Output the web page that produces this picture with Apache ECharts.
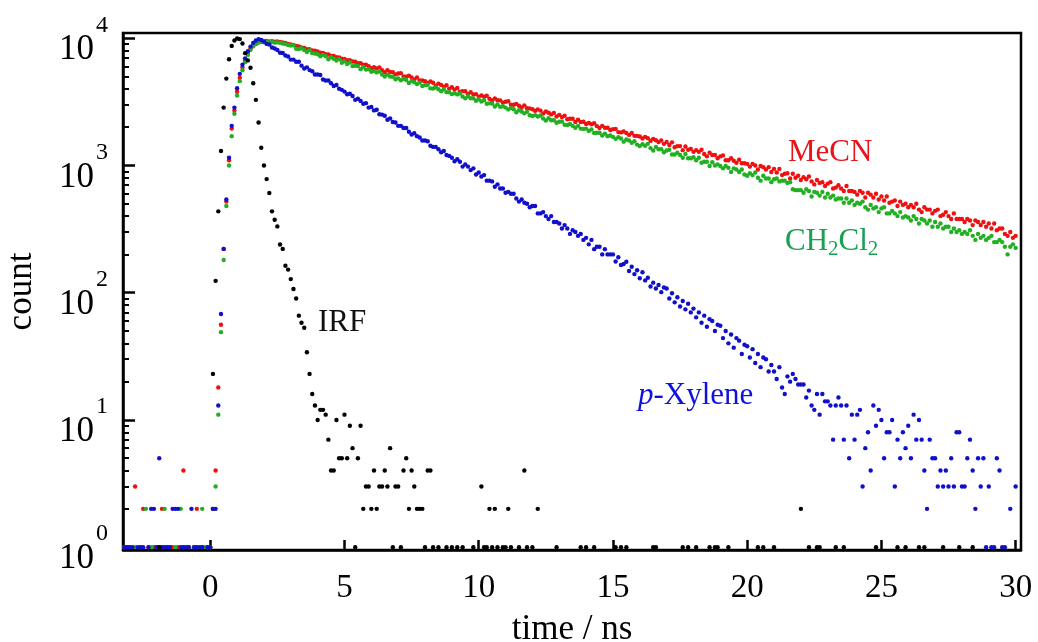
<!DOCTYPE html>
<html><head><meta charset="utf-8">
<script src="https://cdn.jsdelivr.net/npm/echarts@6/dist/echarts.min.js"></script>
<style>html,body{margin:0;padding:0;background:#fff}#c{width:1038px;height:642px}</style>
</head><body><div id="c"></div>
<script>
// time channels: t = T0 + i*DT (ns)
const T0 = -3.2, DT = 0.1;
const xTickValues = [0, 5, 10, 15, 20, 25, 30];
const yMajorValues = [1, 10, 100, 1000, 10000];
const yMinorValues = [2,3,4,5,6,7,8,9,20,30,40,50,60,70,80,90,200,300,400,500,600,700,800,900,2000,3000,4000,5000,6000,7000,8000,9000];

// MeCN counts per channel (rows: -3.2..-3.1, -3.0.., -2.0.., -1.0.., 0.0.., 1.0.., 2.0.. ... 29.0.., 30.0)
const mecn = [
1,1,
0,0,3,0,1,2,0,1,0,1,
0,1,2,0,1,0,1,0,1,0,
4,0,1,0,1,2,0,1,0,1,
1,2,4,18,56,221,520,1100,1950,2700,
3800,4900,5900,6700,7600,8300,8800,9100,9300,9400,
9420,9510,9460,9480,9390,9440,9360,9250,9190,9040,
8950,8870,8700,8640,8460,8390,8220,8190,8010,7990,
7860,7700,7660,7480,7450,7300,7270,7090,7080,6920,
6880,6730,6710,6560,6530,6380,6360,6200,6190,6040,
5830,5930,5800,5900,5600,5410,5620,5440,5420,5200,
5280,5320,5000,4980,5070,4910,4750,4920,4670,4660,
4600,4450,4570,4470,4240,4400,4300,4160,4270,4020,
4120,3950,4060,3810,3840,3830,3630,3770,3610,3640,
3480,3550,3470,3530,3350,3240,3370,3260,3250,3120,
3170,3200,3000,3000,3050,2950,2860,2970,2820,2810,
2770,2690,2760,2700,2560,2660,2600,2520,2590,2430,
2500,2400,2460,2310,2330,2330,2200,2290,2200,2210,
2120,2160,2110,2150,2040,1970,2050,1980,1980,1900,
1930,1940,1830,1820,1850,1800,1740,1800,1710,1710,
1690,1630,1680,1640,1560,1620,1580,1530,1570,1480,
1530,1450,1520,1390,1420,1420,1320,1410,1330,1350,
1280,1320,1280,1330,1230,1180,1260,1210,1210,1140,
1180,1200,1100,1100,1140,1090,1050,1110,1040,1040,
1030,980,1030,1000,930,990,970,930,970,890,
940,880,940,840,860,870,790,860,800,830,
770,810,780,820,750,710,770,730,740,690,
720,740,660,670,700,660,630,690,630,630,
620,590,630,610,560,610,590,560,600,540,
570,530,570,510,520,530,480,520,490,500,
470,490,470,500,450,430,470,450,450,420,
440,450,400,410,430,400,380,420,380,380,
380,360,380,370,340,370,360,340,360,330,
350,320,350,310,320,320,290,280,300,270,
280
];

const ch2cl2 = [
1,0,
1,0,1,0,1,0,2,0,1,0,
1,0,1,2,0,1,0,1,0,2,
1,0,1,0,1,1,0,2,1,1,
1,2,3,11,49,181,480,1000,1700,2550,
3550,4600,5600,6500,7400,8100,8650,9000,9250,9350,
9300,9390,9300,9360,9240,9280,9200,9090,9000,8850,
8780,8820,8270,8230,8350,8070,7790,8060,7640,7600,
7490,7230,7410,7230,6840,7090,6910,6680,6840,6420,
6580,6290,6450,6040,6080,6050,5720,5930,5670,5700,
5450,5530,5390,5470,5180,5000,5180,5010,4980,4760,
4840,4680,4810,4700,4450,4620,4510,4370,4480,4210,
4280,4310,4040,4030,4100,3970,3840,3970,3770,3760,
3640,3700,3620,3680,3490,3370,3500,3380,3370,3230,
3320,3180,3260,3060,3080,3070,2910,3020,2890,2920,
2850,2760,2830,2770,2620,2720,2660,2570,2640,2480,
2450,2490,2430,2470,2340,2260,2350,2270,2270,2170,
2210,2220,2090,2080,2120,2050,1980,2050,1950,1940,
1950,1870,1920,1800,1810,1810,1720,1780,1700,1720,
1680,1620,1670,1630,1540,1600,1570,1510,1550,1460,
1420,1470,1430,1480,1370,1310,1400,1340,1340,1270,
1310,1330,1220,1220,1260,1210,1150,1230,1140,1140,
1160,1100,1150,1050,1070,1070,990,1060,1000,1020,
990,950,990,960,890,950,930,890,930,850,
830,870,840,880,800,760,830,790,790,740,
780,790,750,760,760,730,740,650,640,640,
640,610,650,630,570,620,610,580,620,560,
600,560,580,540,550,550,510,550,510,530,
490,510,500,520,470,450,490,460,470,430,
460,470,420,420,440,420,400,430,390,400,
390,370,400,380,350,380,370,350,370,330,
360,330,350,320,330,330,300,320,300,310,
290,300,290,310,280,260,290,270,280,260,
270,280,250,250,260,250,230,200,230,240,
225
];

const pxylene = [
1,1,
1,1,0,1,1,1,0,1,2,2,
1,5,1,1,1,1,2,2,2,1,
1,1,1,2,1,1,1,1,0,1,
1,2,2,13,68,221,540,1150,2050,2850,
4050,5250,6200,6950,7900,8600,9200,9600,9850,9700,
9420,9030,8940,8460,8300,8090,7700,7660,7320,7180,
6800,6800,6530,6530,6090,5790,5910,5620,5510,5190,
5190,5140,4740,4650,4650,4430,4210,4290,4010,3930,
3810,3630,3660,3520,3280,3350,3220,3060,3090,2850,
2880,2710,2740,2530,2510,2460,2290,2340,2200,2180,
2050,2050,1970,1970,1840,1750,1790,1700,1660,1570,
1570,1550,1430,1400,1400,1340,1270,1300,1210,1190,
1150,1080,1120,1070,980,1020,980,920,950,850,
880,820,840,760,760,750,680,710,660,660,
610,620,600,600,550,520,540,510,500,470,
480,480,420,420,430,400,380,400,360,360,
350,320,340,320,290,310,300,280,290,260,
270,240,260,220,230,230,200,220,200,200,
200,176,190,165,168,175,148,160,140,150,
130,145,125,131,112,120,108,115,101,110,
108,90,99,84,92,78,86,74,82,70,
75,64,70,58,66,54,62,60,50,56,
55,44,50,40,47,37,44,42,33,39,
38,31,36,28,33,26,31,30,24,27,
24,21,26,18,16,22,20,23,21,19,
19,19,15,17,13,12,16,11,16,14,
14,13,7,13,15,13,7,13,5,11,
7,11,12,3,6,8,4,13,9,12,
10,5,8,8,10,3,7,5,8,6,
9,5,11,7,10,7,4,2,7,5,
5,3,4,3,4,3,5,3,8,8,
3,3,5,7,4,2,5,3,5,1,
3,1,1,5,4,1,1,0,2,0,
3
];

// IRF: [time / ns, count] (channels with zero counts omitted)
const irf = [
[-1.9,1],[0.1,23],[0.2,124],[0.3,436],[0.4,1300],[0.5,2850],[0.6,4820],[0.7,6840],[0.8,8710],[0.9,9600],
[1.0,9950],[1.1,9850],[1.2,9100],[1.3,7640],[1.4,6700],[1.5,5870],[1.6,4430],[1.7,3280],[1.8,2180],[1.9,1380],
[2.0,1000],[2.1,782],[2.2,607],[2.3,436],[2.4,375],[2.5,332],[2.6,239],[2.7,221],[2.8,163],[2.9,152],
[3.0,128],[3.1,107],[3.2,90],[3.3,66],[3.4,58],[3.5,53],[3.6,34],[3.7,23],[3.8,16],[3.9,13],
[4.0,10],[4.1,12],[4.2,12],[4.3,11],[4.4,7],[4.5,4],[4.6,4],[4.7,10],[4.8,5],[4.9,5],
[5.0,11],[5.1,5],[5.2,9],[5.3,6],[5.4,1],[5.5,5],[5.6,9],[5.7,2],[5.8,3],[5.9,3],
[6.0,2],[6.1,4],[6.2,2],[6.3,3],[6.4,3],[6.5,4],[6.6,3],[6.7,6],[6.8,1],[6.9,3],
[7.0,3],[7.1,1],[7.2,4],[7.3,5],[7.4,2],[7.5,4],[7.6,3],[7.7,2],[7.8,2],[7.9,2],
[8.0,1],[8.1,4],[8.2,4],[8.3,1],[8.5,1],[8.8,1],[9.0,1],[9.2,1],[9.4,1],[9.8,1],
[10.1,3],[10.2,1],[10.3,1],[10.4,2],[10.5,1],[10.6,2],[10.7,1],[10.9,1],[11.0,1],[11.1,2],
[11.2,1],[11.5,1],[11.7,4],[11.8,1],[12.0,1],[12.2,2],[12.9,1],[13.8,1],[14.0,1],[14.3,1],
[15.1,1],[15.3,1],[15.5,1],[16.5,1],[16.6,1],[17.6,1],[17.8,1],[18.1,1],[18.6,1],[18.8,1],
[18.9,1],[19.3,1],[20.4,1],[20.6,1],[21.0,1],[22.0,2],[22.3,1],[22.6,1],[22.7,1],[23.3,1],
[23.6,1],[24.8,1],[25.6,1],[25.9,1],[26.4,1],[26.6,1],[27.3,1],[27.9,1],[28.4,1]
];

const SERIF = "'Liberation Serif','Times New Roman','DejaVu Serif',serif";
function toPoints(arr) {
  const out = [];
  arr.forEach((c, i) => { if (c > 0) out.push([+(T0 + i * DT).toFixed(2), c]); });
  return out;
}
const chart = echarts.init(document.getElementById('c'), null, {renderer: 'canvas'});
const dot = 4.4;
function sc(name, data, color) {
  return {type: 'scatter', name, data, symbol: 'circle', symbolSize: dot,
    itemStyle: {color, opacity: 1}, silent: true, animation: false, xAxisIndex: 0, yAxisIndex: 0};
}
const option = {
  animation: false,
  backgroundColor: '#fff',
  grid: {left: 123, right: 17, top: 33, bottom: 92, show: true, borderColor: '#000', borderWidth: 2.5,
    backgroundColor: 'transparent', containLabel: false, outerBoundsMode: 'none'},
  xAxis: [{
    type: 'value', min: -3.25, max: 30.2,
    axisLine: {show: true, onZero: false, lineStyle: {color: '#000', width: 2.5}},
    axisTick: {show: true, inside: true, length: 10, customValues: xTickValues, lineStyle: {color: '#000', width: 2.5}},
    axisLabel: {customValues: xTickValues, fontSize: 33, fontFamily: SERIF, color: '#000', margin: 22},
    splitLine: {show: false},
    name: 'time / ns', nameLocation: 'middle', nameGap: 62,
    nameTextStyle: {fontSize: 35, fontFamily: SERIF, color: '#000'}
  }],
  yAxis: [{
    type: 'log', logBase: 10, min: 0.95, max: 11000,
    axisLine: {show: true, onZero: false, lineStyle: {color: '#000', width: 2.5}},
    axisTick: {show: true, inside: true, length: 12, customValues: yMajorValues, lineStyle: {color: '#000', width: 2.5}},
    axisLabel: {
      customValues: yMajorValues, margin: 15, color: '#000',
      formatter: v => '{b|10}{s|' + Math.round(Math.log10(v)) + '}',
      rich: {
        b: {fontSize: 35, fontFamily: SERIF, color: '#000', lineHeight: 26, padding: [24, 2, 0, 0]},
        s: {fontSize: 24, fontFamily: SERIF, color: '#000', lineHeight: 20, padding: [0, 0, 26, 0]}
      }
    },
    splitLine: {show: false}, minorTick: {show: false},
    name: 'count', nameLocation: 'middle', nameGap: 84, nameRotate: 90,
    nameTextStyle: {fontSize: 35, fontFamily: SERIF, color: '#000'}
  }, {
    type: 'log', logBase: 10, min: 0.95, max: 11000, position: 'left',
    axisLine: {show: false, onZero: false},
    axisTick: {show: true, inside: true, length: 6, customValues: yMinorValues, lineStyle: {color: '#000', width: 2}},
    axisLabel: {show: false}, splitLine: {show: false}
  }],
  series: [
    sc('MeCN', toPoints(mecn), '#ee1111'),
    sc('CH2Cl2', toPoints(ch2cl2), '#22b022'),
    sc('p-Xylene', toPoints(pxylene), '#1010cc'),
    sc('IRF', irf, '#000000')
  ],
  graphic: [
    {type: 'text', x: 788, y: 153, silent: true,
      style: {text: 'MeCN', font: '31px ' + SERIF, fill: '#e8141b', verticalAlign: 'middle'}},
    {type: 'text', x: 785, y: 243, silent: true,
      style: {text: '{a|CH}{b|2}{a|Cl}{b|2}', fill: '#19a050', verticalAlign: 'middle',
        rich: {
          a: {fontSize: 31, fontFamily: SERIF, fill: '#19a050', color: '#19a050', lineHeight: 34, verticalAlign: 'top'},
          b: {fontSize: 21, fontFamily: SERIF, fill: '#19a050', color: '#19a050', lineHeight: 22, verticalAlign: 'bottom', padding: [18, 0, 0, 0]}
        }}},
    {type: 'text', x: 318, y: 323, silent: true,
      style: {text: 'IRF', font: '31px ' + SERIF, fill: '#111', verticalAlign: 'middle'}},
    {type: 'text', x: 638, y: 396, silent: true,
      style: {text: '{i|p}{n|-Xylene}', fill: '#1010e0', verticalAlign: 'middle',
        rich: {
          i: {fontSize: 31, fontFamily: SERIF, fontStyle: 'italic', fill: '#1010e0', color: '#1010e0'},
          n: {fontSize: 31, fontFamily: SERIF, fill: '#1010e0', color: '#1010e0'}
        }}}
  ]
};
chart.setOption(option);
</script>
</body></html>
